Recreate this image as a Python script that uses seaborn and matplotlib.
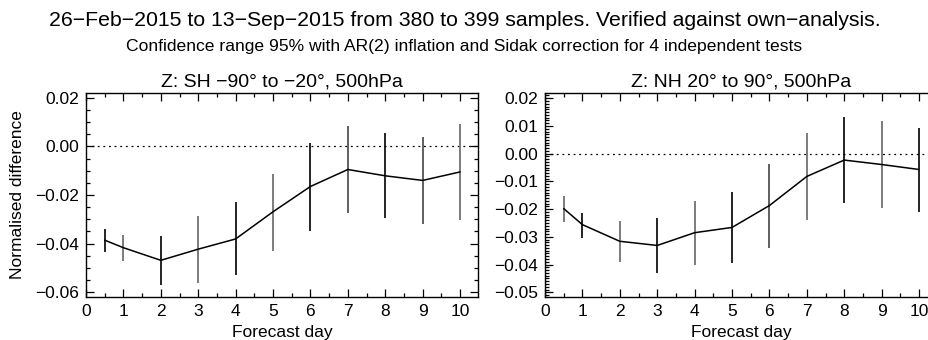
import matplotlib
matplotlib.use("Agg")
import matplotlib.pyplot as plt
import seaborn as sns
import pandas as pd
from matplotlib.ticker import MultipleLocator, FuncFormatter

sns.set_theme(style="ticks")
plt.rcParams['font.family'] = ['Liberation Sans', 'DejaVu Sans']
plt.rcParams['axes.unicode_minus'] = True

days = [0.5, 1, 2, 3, 4, 5, 6, 7, 8, 9, 10]

sh_mean = [-0.0386, -0.0417, -0.0469, -0.0423, -0.0381, -0.0269, -0.0165, -0.0095, -0.0121, -0.0140, -0.0105]
sh_low = [-0.0434, -0.0473, -0.0570, -0.0564, -0.0531, -0.0430, -0.0348, -0.0275, -0.0295, -0.0321, -0.0304]
sh_high = [-0.0338, -0.0366, -0.0369, -0.0288, -0.0230, -0.0112, 0.0013, 0.0084, 0.0055, 0.0039, 0.0091]

nh_mean = [-0.0198, -0.0256, -0.0316, -0.0331, -0.0285, -0.0266, -0.0187, -0.0082, -0.0023, -0.0039, -0.0057]
nh_low = [-0.0246, -0.0305, -0.0391, -0.0431, -0.0400, -0.0394, -0.0340, -0.0238, -0.0179, -0.0195, -0.0209]
nh_high = [-0.0152, -0.0213, -0.0244, -0.0233, -0.0172, -0.0139, -0.0038, 0.0075, 0.0133, 0.0118, 0.0093]

sh_bar_colors = ['black', '#666666', 'black', '#666666', 'black', '#666666', 'black', '#444444', 'black', '#444444', '#666666']
nh_bar_colors = ['#666666', 'black', '#666666', 'black', '#666666', 'black', '#444444', '#666666', 'black', '#666666', 'black']

title_main = "26\u2212Feb\u22122015 to 13\u2212Sep\u22122015 from 380 to 399 samples. Verified against own\u2212analysis."
title_sub = "Confidence range 95% with AR(2) inflation and Sidak correction for 4 independent tests"
panel_titles = ["Z: SH \u221290\u00b0 to \u221220\u00b0, 500hPa", "Z: NH 20\u00b0 to 90\u00b0, 500hPa"]

W, H = 929, 340
fig = plt.figure(figsize=(W / 100, H / 100), dpi=100)
fig.patch.set_facecolor('white')

def rect(x0, y0, x1, y1):
    return [x0 / W, 1 - y1 / H, (x1 - x0) / W, (y1 - y0) / H]

ax1 = fig.add_axes(rect(86, 93, 478, 297))
ax2 = fig.add_axes(rect(545, 93, 937, 297))

fmt = FuncFormatter(lambda v, p: ('%.2f' % v).replace('-', '\u2212') if abs(v) > 1e-9 else '0.00')

panels = [
    (ax1, sh_mean, sh_low, sh_high, sh_bar_colors, (-0.062, 0.022), 0.02, 0.005, panel_titles[0]),
    (ax2, nh_mean, nh_low, nh_high, nh_bar_colors, (-0.0517, 0.0219), 0.01, 0.001, panel_titles[1]),
]

for ax, mean, low, high, cols, ylim, major, minor, title in panels:
    df = pd.DataFrame({'day': days, 'val': mean, 'low': low, 'high': high})
    ax.set_facecolor('white')
    ax.axhline(0, color='black', lw=0.9, ls=(0, (1.5, 3)), zorder=1)
    ax.vlines(df['day'], df['low'], df['high'], colors=cols, lw=1.2, zorder=2)
    sns.lineplot(data=df, x='day', y='val', ax=ax, color='black', lw=1.1, zorder=3)
    ax.set_xlim(0, 10.48)
    ax.set_ylim(*ylim)
    ax.xaxis.set_major_locator(MultipleLocator(1))
    ax.xaxis.set_minor_locator(MultipleLocator(0.5))
    ax.yaxis.set_major_locator(MultipleLocator(major))
    ax.yaxis.set_minor_locator(MultipleLocator(minor))
    ax.yaxis.set_major_formatter(fmt)
    ax.tick_params(which='both', direction='in', top=True, right=True, colors='black',
                   labelsize=12.5, pad=5)
    ax.tick_params(which='major', length=6, width=0.9)
    ax.tick_params(which='minor', length=3, width=0.9)
    for s in ax.spines.values():
        s.set_color('black')
        s.set_linewidth(1.0)
    ax.set_title(title, fontsize=14, pad=5, color='black')
    ax.set_xlabel('Forecast day', fontsize=12.5, color='black', va='center')
    ax.xaxis.set_label_coords(0.5, -(332 - 297) / 204)
    ax.set_ylabel('')

ax1.set_ylabel('Normalised difference', fontsize=12.5, color='black', va='center')
ax1.yaxis.set_label_coords((18 - 86) / 392, 0.5)

fig.text(0.5, 1 - 20 / H, title_main, ha='center', va='center', fontsize=15.3, color='black')
fig.text(0.5, 1 - 47 / H, title_sub, ha='center', va='center', fontsize=12.6, color='black')

fig.savefig('out.png', dpi=100, facecolor='white')
